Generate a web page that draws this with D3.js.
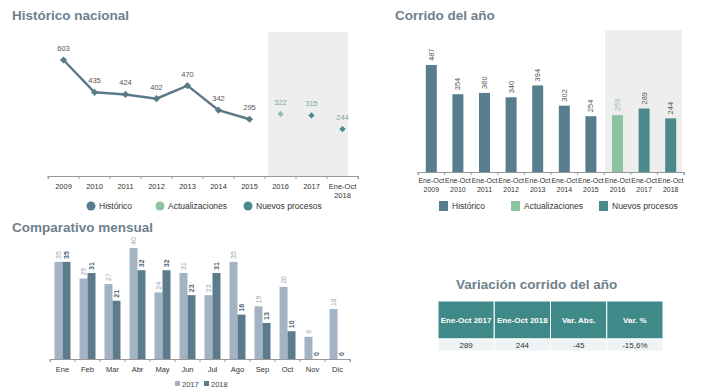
<!DOCTYPE html>
<html><head><meta charset="utf-8">
<script src="https://cdn.jsdelivr.net/npm/d3@7"></script>
<style>
body{margin:0;background:#fff;}
svg{font-family:"Liberation Sans",Arial,sans-serif;}
</style></head>
<body><svg id="c" width="706" height="392"></svg>
<script>
const histYears = ["2009","2010","2011","2012","2013","2014","2015","2016","2017","Ene-Oct\n2018"];
const histValues = [603,435,424,402,470,342,295,322,315,244];
const histSeries = ["h","h","h","h","h","h","h","a","n","n"];
const corYears = ["2009","2010","2011","2012","2013","2014","2015","2016","2017","2018"];
const corValues = [487,354,360,340,394,302,254,259,289,244];
const corSeries = ["h","h","h","h","h","h","h","a","n","n"];
const months = ["Ene","Feb","Mar","Abr","May","Jun","Jul","Ago","Sep","Oct","Nov","Dic"];
const m2017 = [35,29,27,40,24,31,23,35,19,26,8,18];
const m2018 = [35,31,21,32,32,23,31,16,13,10,0,0];
const tableHead = ["Ene-Oct 2017","Ene-Oct 2018","Var. Abs.","Var. %"];
const tableRow = ["289","244","-45","-15,6%"];
const legendNames = {h:"Histórico",a:"Actualizaciones",n:"Nuevos procesos"};

const col = {h:"#587d8f",a:"#8cc3a3",n:"#4b8a8b"};
const titleCol = "#6f808b";
const svg = d3.select("#c");

function title(x,y,t){svg.append("text").attr("x",x).attr("y",y).attr("font-size",13.5).attr("font-weight","bold").attr("fill",titleCol).text(t);}

// ---------- Chart 1: Histórico nacional ----------
title(12,20,"Histórico nacional");
const x1 = d3.scaleBand().domain(histYears).range([48,358]);
const y1 = d3.scaleLinear().domain([0,603]).range([176,60]);
const g1 = svg.append("g");
g1.append("rect").attr("x",268).attr("y",32).attr("width",80).attr("height",176-32).attr("fill","#eeeeee");
const ax1 = g1.append("g").attr("transform","translate(0,176)").call(d3.axisBottom(x1).tickSize(3).tickFormat(""));
ax1.select(".domain").attr("stroke","#999");
ax1.selectAll(".tick line").attr("stroke","#999").attr("transform",`translate(${-x1.bandwidth()/2},0)`);
g1.append("line").attr("x1",358).attr("x2",358).attr("y1",176).attr("y2",179).attr("stroke","#999");
histYears.forEach((d,i)=>{
  const lines=d.split("\n");
  const t=g1.append("text").attr("x",x1(d)+x1.bandwidth()/2).attr("y",189).attr("text-anchor","middle").attr("font-size",7.5).attr("fill","#333");
  lines.forEach((l,j)=>t.append("tspan").attr("x",x1(d)+x1.bandwidth()/2).attr("dy",j?9:0).text(l));
});
const cx1 = (d,i)=>x1(histYears[i])+x1.bandwidth()/2;
const histIdx = d3.range(7);
g1.append("path").datum(histIdx).attr("fill","none").attr("stroke","#5b7a88").attr("stroke-width",2.5)
  .attr("d",d3.line().x(i=>cx1(null,i)).y(i=>y1(histValues[i])));
histValues.forEach((v,i)=>{
  const s=histSeries[i];
  const c = s==="h"?"#5b7a88":col[s];
  const sz = s==="h"?26:20;
  g1.append("path").attr("d",d3.symbol(d3.symbolSquare,sz)()).attr("transform",`translate(${cx1(null,i)},${y1(v)}) rotate(45)`).attr("fill",c);
  g1.append("text").attr("x",cx1(null,i)).attr("y",y1(v)-9).attr("text-anchor","middle").attr("font-size",7.5).attr("fill",s==="h"?"#555":"#7aa89a").text(v);
});
[["h",91],["a",160],["n",248]].forEach(([k,x])=>{
  svg.append("circle").attr("cx",x).attr("cy",206).attr("r",4.5).attr("fill",col[k]);
  svg.append("text").attr("x",x+8).attr("y",209).attr("font-size",8.5).attr("fill","#333").text(legendNames[k]);
});

// ---------- Chart 2: Corrido del año ----------
title(395,20,"Corrido del año");
const x2 = d3.scaleBand().domain(corYears).range([418,684]);
const y2 = d3.scaleLinear().domain([0,487]).range([172,65]);
const g2 = svg.append("g");
g2.append("rect").attr("x",605).attr("y",30).attr("width",77).attr("height",142).attr("fill","#eeeeee");
const ax2 = g2.append("g").attr("transform","translate(0,172)").call(d3.axisBottom(x2).tickSize(3).tickFormat(""));
ax2.select(".domain").attr("stroke","#999");
ax2.selectAll(".tick line").attr("stroke","#999").attr("transform",`translate(${-x2.bandwidth()/2},0)`);
g2.append("line").attr("x1",684).attr("x2",684).attr("y1",172).attr("y2",175).attr("stroke","#999");
corYears.forEach((d,i)=>{
  const cx=x2(d)+x2.bandwidth()/2;
  const t=g2.append("text").attr("x",cx).attr("y",183).attr("text-anchor","middle").attr("font-size",7).attr("fill","#333");
  t.append("tspan").attr("x",cx).text("Ene-Oct");
  t.append("tspan").attr("x",cx).attr("dy",9).text(d);
});
const bw2=11;
corValues.forEach((v,i)=>{
  const cx=x2(corYears[i])+x2.bandwidth()/2;
  g2.append("rect").attr("x",cx-bw2/2).attr("y",y2(v)).attr("width",bw2).attr("height",172-y2(v)).attr("fill",col[corSeries[i]]);
  g2.append("text").attr("transform",`translate(${cx+2.5},${y2(v)-4}) rotate(-90)`).attr("font-size",7.5)
    .attr("fill",corSeries[i]==="a"?"#8cc3a3":"#555").text(v);
});
[["h",443],["a",515],["n",603]].forEach(([k,x])=>{
  svg.append("rect").attr("x",x-4).attr("y",201).attr("width",9).attr("height",10).attr("fill",col[k]);
  svg.append("text").attr("x",x+9).attr("y",209).attr("font-size",8.5).attr("fill","#333").text(legendNames[k]);
});

// ---------- Chart 3: Comparativo mensual ----------
title(12,232,"Comparativo mensual");
const x3 = d3.scaleBand().domain(months).range([50,350]);
const y3 = d3.scaleLinear().domain([0,40]).range([359,248]);
const g3 = svg.append("g");
const ax3 = g3.append("g").attr("transform","translate(0,359)").call(d3.axisBottom(x3).tickSize(3).tickFormat(""));
ax3.select(".domain").attr("stroke","#999");
ax3.selectAll(".tick line").attr("stroke","#999").attr("transform",`translate(${-x3.bandwidth()/2},0)`);
g3.append("line").attr("x1",350).attr("x2",350).attr("y1",359).attr("y2",362).attr("stroke","#999");
const bw3=8;
months.forEach((m,i)=>{
  const cx=x3(m)+x3.bandwidth()/2;
  g3.append("text").attr("x",cx).attr("y",372).attr("text-anchor","middle").attr("font-size",7.5).attr("fill","#333").text(m);
  const v1=m2017[i], v2=m2018[i];
  g3.append("rect").attr("x",cx-bw3).attr("y",y3(v1)).attr("width",bw3).attr("height",359-y3(v1)).attr("fill","#a3b3c3");
  g3.append("rect").attr("x",cx).attr("y",y3(v2)).attr("width",bw3).attr("height",359-y3(v2)).attr("fill","#5c7b8c");
  g3.append("text").attr("transform",`translate(${cx-bw3/2+2.5},${y3(v1)-3}) rotate(-90)`).attr("font-size",7).attr("fill","#9aa8b4").text(v1);
  g3.append("text").attr("transform",`translate(${cx+bw3/2+2.5},${y3(v2)-3}) rotate(-90)`).attr("font-size",7).attr("font-weight","bold").attr("fill","#4d6472").text(v2);
});
[["2017","#a3b3c3",175],["2018","#5c7b8c",204]].forEach(([t,c,x])=>{
  svg.append("rect").attr("x",x).attr("y",381).attr("width",5).attr("height",5).attr("fill",c);
  svg.append("text").attr("x",x+7).attr("y",387).attr("font-size",7.5).attr("fill","#444").text(t);
});

// ---------- Table ----------
title(456,289,"Variación corrido del año");
const tx = d3.scaleBand().domain(tableHead).range([438,663]);
tableHead.forEach((h,i)=>{
  svg.append("rect").attr("x",tx(h)).attr("y",301).attr("width",tx.bandwidth()).attr("height",38).attr("fill","#3f8a88").attr("stroke","#fff").attr("stroke-width",1);
  svg.append("text").attr("x",tx(h)+tx.bandwidth()/2).attr("y",323).attr("text-anchor","middle").attr("font-size",8).attr("font-weight","bold").attr("fill","#fff").text(h);
  svg.append("rect").attr("x",tx(h)).attr("y",339).attr("width",tx.bandwidth()).attr("height",12).attr("fill","#eef4f3").attr("stroke","#fff");
  svg.append("text").attr("x",tx(h)+tx.bandwidth()/2).attr("y",348).attr("text-anchor","middle").attr("font-size",8).attr("fill","#333").text(tableRow[i]);
});
</script></body></html>
